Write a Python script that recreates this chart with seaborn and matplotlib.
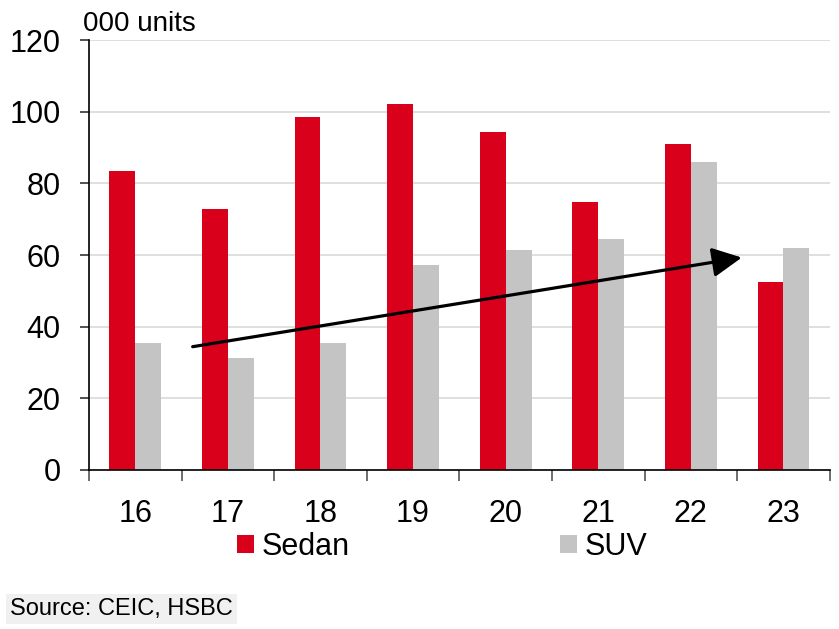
import numpy as np
import pandas as pd
import matplotlib
matplotlib.use("Agg")
import matplotlib.pyplot as plt
import seaborn as sns

# Sedan vs SUV sales, 000 units
years = ["16", "17", "18", "19", "20", "21", "22", "23"]
sedan = [83.4, 73.0, 98.7, 102.1, 94.3, 74.7, 90.9, 52.6]
suv = [35.5, 31.3, 35.5, 57.1, 61.3, 64.6, 85.9, 62.1]
series = ["Sedan", "SUV"]
colors = ["#d9001b", "#c4c4c4"]

df = pd.DataFrame({
    "year": years * 2,
    "value": sedan + suv,
    "type": ["Sedan"] * len(years) + ["SUV"] * len(years),
})

sns.set_style("white")
plt.rcParams["font.family"] = ["Liberation Sans Narrow", "Liberation Sans", "DejaVu Sans"]
plt.rcParams["text.color"] = "black"
plt.rcParams["xtick.color"] = "black"
plt.rcParams["ytick.color"] = "black"

fig = plt.figure(figsize=(8.39, 6.29), dpi=100)
ax = fig.add_axes([0.106, 0.253, 0.883, 0.683])

sns.barplot(data=df, x="year", y="value", hue="type", hue_order=series,
            palette=colors, width=0.56, gap=0, saturation=1, linewidth=0,
            legend=True, ax=ax)

ax.set_ylim(0, 120)
ax.set_xlim(-0.5, 7.5)
ax.set_yticks(range(0, 121, 20))
ax.yaxis.grid(True, color="#d9d9d9", lw=1.2)
ax.set_axisbelow(True)

# ticks between groups, labels at group centres
ax.set_xticks(np.arange(-0.5, 8.0, 1.0))
ax.set_xticklabels([])
ax.set_xticks(np.arange(len(years)), minor=True)
ax.set_xticklabels(years, minor=True)
ax.tick_params(axis="x", which="major", bottom=True, direction="out", length=8,
               width=1.2, color="#555555")
ax.tick_params(axis="x", which="minor", bottom=True, length=0, pad=21, labelsize=22)
ax.tick_params(axis="y", left=True, direction="out", length=6.5, width=1.2,
               color="#333333", labelsize=22, pad=14)

ax.set_xlabel("")
ax.set_ylabel("")
for s in ["top", "right"]:
    ax.spines[s].set_visible(False)
for s in ["left", "bottom"]:
    ax.spines[s].set_color("black")
    ax.spines[s].set_linewidth(1.2)

# trend arrow
ax.annotate("", xy=(6.55, 59.3), xytext=(0.62, 34.4),
            arrowprops=dict(arrowstyle="-|>,head_length=1.8,head_width=0.9",
                            color="black", lw=2.3, shrinkA=0, shrinkB=0))

fig.text(83 / 839, 1 - 31 / 629, "000 units", fontsize=20,
         ha="left", va="baseline")

handles, labels = ax.get_legend_handles_labels()
ax.legend(handles, labels, loc="center left", bbox_to_anchor=(237 / 839, 1 - 547 / 629),
          bbox_transform=fig.transFigure, ncol=2, frameon=False, fontsize=22,
          handlelength=0.55, handleheight=0.55, handletextpad=0.25,
          columnspacing=6.9, borderaxespad=0, borderpad=0)

fig.text(0.012, 0.014, "Source: CEIC, HSBC", fontsize=17, ha="left", va="bottom",
         bbox=dict(facecolor="#f0f0f0", edgecolor="none", pad=3))

fig.savefig("out.png", dpi=100)
